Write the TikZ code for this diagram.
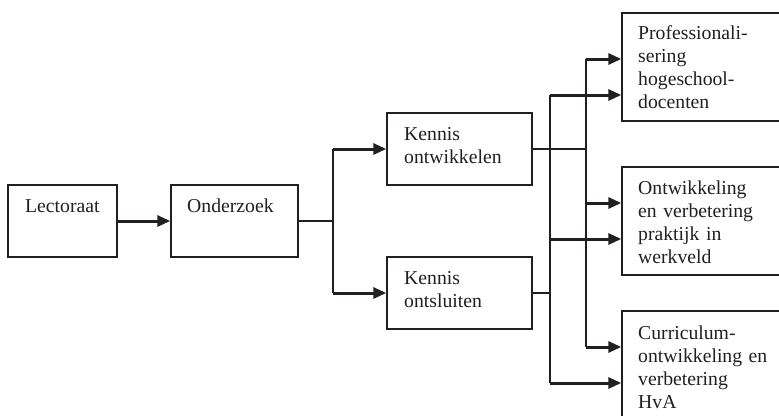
\documentclass[tikz,border=0pt]{standalone}
\usepackage{fontspec}
\setmainfont{Liberation Serif}
\usetikzlibrary{arrows.meta}
\definecolor{ink}{HTML}{231F20}
\begin{document}
\begin{tikzpicture}[x=1pt,y=-1pt,
  box/.style={draw=ink, line width=1.4pt, inner sep=0pt},
  lbl/.style={anchor=base west, inner sep=0pt, text width=160pt, align=left,
    font=\fontsize{19.7}{23}\selectfont, text=ink},
  thinline/.style={draw=ink, line width=1.4pt},
  arr/.style={draw=ink, line width=3pt, -{Triangle[length=13pt,width=11pt]}}]
\clip (0,0) rectangle (779,415);
\fill[white] (0,0) rectangle (779,415);
% boxes
\node[box, minimum width=109pt, minimum height=72pt] (L) at (62.5,221) {};
\node[box, minimum width=127pt, minimum height=72pt] (O) at (234.5,221) {};
\node[box, minimum width=145pt, minimum height=72pt] (KO) at (459.5,149) {};
\node[box, minimum width=145pt, minimum height=72pt] (KS) at (459.5,293) {};
\node[box, minimum width=168pt, minimum height=108pt] (P) at (706,67) {};
\node[box, minimum width=168pt, minimum height=108pt] (W) at (706,221) {};
\node[box, minimum width=168pt, minimum height=119pt] (C) at (706,370.5) {};
% texts
\node[lbl] (tL) at (25,212) {Lectoraat};
\node[lbl] (tO) at (187,212) {Onderzoek};
\node[lbl] (tKO) at (404,140) {Kennis\\ontwikkelen};
\node[lbl] (tKS) at (404,284) {Kennis\\ontsluiten};
\node[lbl] (tP) at (638,39) {Professionali-\\sering\\hogeschool-\\docenten};
\node[lbl] (tW) at (638,194) {Ontwikkeling\\en verbetering\\praktijk in\\werkveld};
\node[lbl] (tC) at (638,339) {Curriculum-\\ontwikkeling en\\verbetering\\HvA};
% junctions
\coordinate (j1) at (333,221);
\coordinate (j1a) at (333,149);
\coordinate (j1b) at (333,293);
\coordinate (j2) at (586,149);
\coordinate (j2a) at (586,59);
\coordinate (j2b) at (586,203);
\coordinate (j2c) at (586,347);
\coordinate (j3) at (550,293);
\coordinate (j3a) at (550,95);
\coordinate (j3b) at (550,239);
\coordinate (j3c) at (550,383);
% connectors
\draw[arr] (L.east) -- (O.west);
\draw[thinline] (O.east) -- (j1);
\draw[thinline] (j1a) -- (j1b);
\draw[arr] (j1a) -- (KO.west);
\draw[arr] (j1b) -- (KS.west);
\draw[thinline] (KO.east) -- (j2);
\draw[thinline] (j2a) -- (j2c);
\draw[thinline] (KS.east) -- (j3);
\draw[thinline] (j3a) -- (j3c);
\draw[arr] (j2a) -- (j2a -| P.west);
\draw[arr] (j2b) -- (j2b -| W.west);
\draw[arr] (j2c) -- (j2c -| C.west);
\draw[arr] (j3a) -- (j3a -| P.west);
\draw[arr] (j3b) -- (j3b -| W.west);
\draw[arr] (j3c) -- (j3c -| C.west);
\end{tikzpicture}
\end{document}
